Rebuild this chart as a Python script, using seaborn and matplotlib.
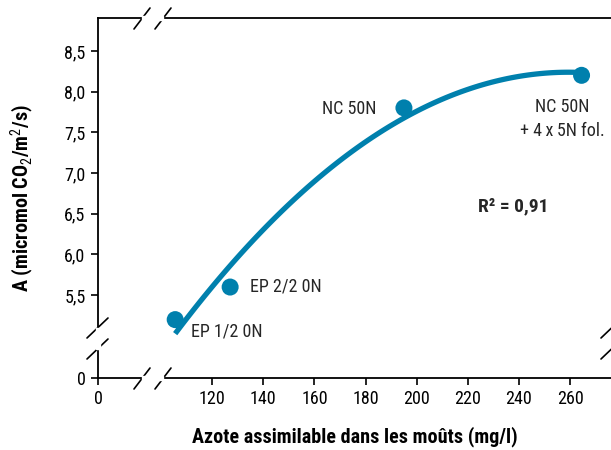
import numpy as np
import pandas as pd
import matplotlib
matplotlib.use("Agg")
import matplotlib.pyplot as plt
from matplotlib import font_manager
import seaborn as sns

# ---- data ----
azote = [105.5, 127.0, 195.0, 264.5]          # mg/l
assim = [5.2, 5.6, 7.8, 8.2]                   # micromol CO2/m2/s
labels = ["EP 1/2 0N", "EP 2/2 0N", "NC 50N", "NC 50N\n+ 4\u2009x\u20095N fol."]
x_ticks = [120, 140, 160, 180, 200, 220, 240, 260]
y_ticks = [5.5, 6.0, 6.5, 7.0, 7.5, 8.0, 8.5]
r2_text = "R\u00b2 = 0,91"

df = pd.DataFrame({"azote": azote, "A": assim})

sns.set_theme(style="white")
avail = {f.name for f in font_manager.fontManager.ttflist}
narrow = [f for f in avail if ("Condensed" in f or "Narrow" in f)]
pref = ["Liberation Sans Narrow", "Roboto Condensed", "Open Sans Condensed",
        "Noto Sans Condensed"] + sorted(narrow) + ["Roboto", "Liberation Sans"]
FONT = next((f for f in pref if f in avail), "DejaVu Sans")
plt.rcParams["font.family"] = [FONT, "DejaVu Sans"]
plt.rcParams["mathtext.fontset"] = "custom"
plt.rcParams["mathtext.rm"] = FONT
plt.rcParams["mathtext.bf"] = FONT + ":bold"

BLUE = "#0080ad"
fig = plt.figure(figsize=(6.11, 4.5), dpi=100)
ax = fig.add_axes([98 / 611, 1 - 378 / 450, 1 - 98 / 611 + 0.002, (378 - 18) / 450])

x0 = 75.3   # position standing for "0" beyond the break
y0 = 4.483
ax.set_xlim(x0, 276.5)
ax.set_ylim(y0, 8.904)

sns.regplot(data=df, x="azote", y="A", order=2, ci=None, truncate=True,
            scatter=False, ax=ax, line_kws=dict(color=BLUE, lw=3.8, solid_capstyle="butt"))
sns.scatterplot(data=df, x="azote", y="A", ax=ax, color=BLUE, s=150,
                edgecolor="none", zorder=5)

FS = 13
FSB = 14.5
ax.set_xticks([x0] + x_ticks)
ax.set_xticklabels(["0"] + [str(v) for v in x_ticks])
ax.set_yticks([y0] + y_ticks)
ax.set_yticklabels(["0"] + [f"{v:.1f}".replace(".", ",") for v in y_ticks])
ax.tick_params(axis="both", which="both", direction="out", length=5, width=1.2,
               color="black", labelsize=FS, labelcolor="black", pad=4,
               bottom=True, left=True)

for s in ["left", "bottom", "top"]:
    ax.spines[s].set_visible(True)
    ax.spines[s].set_color("black")
    ax.spines[s].set_linewidth(1.3)
ax.spines["right"].set_visible(False)
ax.grid(False)

ax.set_xlabel("Azote assimilable dans les moûts (mg/l)", fontsize=FSB,
              fontweight="bold", labelpad=13, color="black")
ax.set_ylabel("A (micromol CO$_2$/m$^2$/s)", fontsize=FSB, fontweight="bold",
              labelpad=20, color="black")

# point annotations
ax.text(azote[0] + 6.3, assim[0] - 0.15, labels[0], fontsize=FS, ha="left", va="center")
ax.text(azote[1] + 7.9, assim[1] + 0.01, labels[1], fontsize=FS, ha="left", va="center")
ax.text(azote[2] - 10.7, assim[2] - 0.01, labels[2], fontsize=FS, ha="right", va="center")
ax.text(azote[3] - 7.4, assim[3] - 0.54, labels[3], fontsize=FS, ha="center", va="center",
        linespacing=1.4)
ax.text(237.6, 6.586, r2_text, fontsize=14, fontweight="bold", ha="center", va="center")

# axis break marks (pixel based decorations)
def px(x, y):
    return (x / 611, 1 - y / 450)

def brk(p1, p2):
    (a, b), (c, d) = px(*p1), px(*p2)
    fig.add_artist(plt.Line2D([a, c], [b, d], color="black", lw=1.2,
                              transform=fig.transFigure))

def gap(xa, ya, xb, yb):
    (a, b) = px(xa, ya)
    (c, d) = px(xb, yb)
    fig.add_artist(plt.Rectangle((min(a, c), min(b, d)), abs(c - a), abs(d - b),
                                 color="white", transform=fig.transFigure, zorder=3))

for yy in (18, 378):
    gap(142, yy - 2, 163, yy + 2)
    brk((134, yy + 11), (150, yy - 10))
    brk((155, yy + 11), (171, yy - 10))
gap(96, 328, 100, 349)
for xx in (98, 612):
    brk((xx - 11, 338), (xx + 10, 318))
    brk((xx - 11, 359), (xx + 10, 339))

fig.savefig("out.png", dpi=100)
